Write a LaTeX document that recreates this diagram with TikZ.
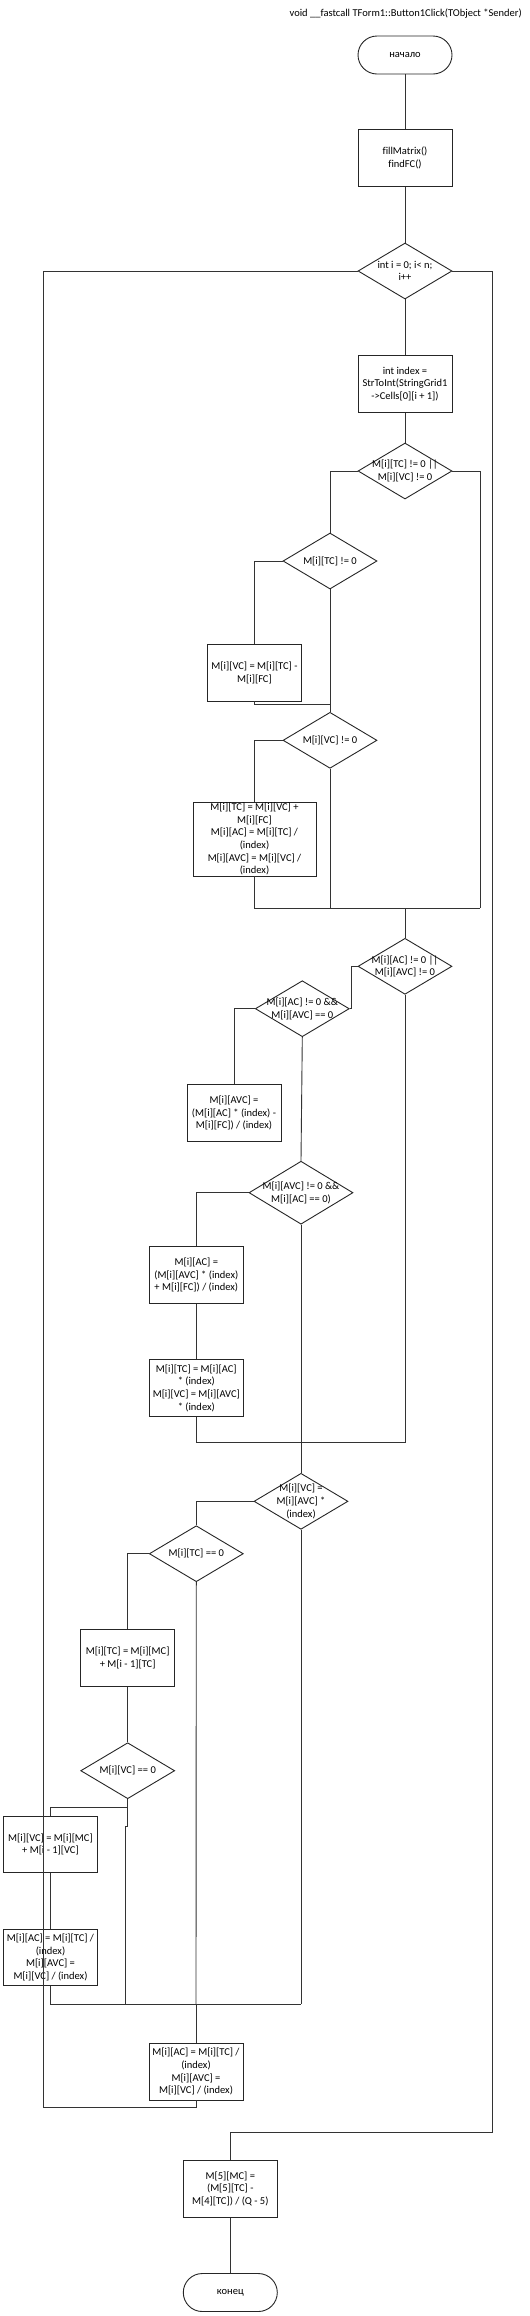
\documentclass[tikz,border=0pt]{standalone}
\usepackage{fontspec}
\setmainfont{Carlito}[Ligatures=NoCommon]
\usetikzlibrary{shapes.geometric}
\tikzset{
  lbl/.style={inner sep=0pt, align=center, font=\fontsize{10.5}{12.7}\selectfont, text=black},
  boxnode/.style={draw=black!85, line width=0.9pt, fill=white, rectangle, inner sep=0pt, minimum width=94pt, minimum height=56.5pt},
  dianode/.style={draw=black!85, line width=0.9pt, fill=white, diamond, inner sep=0pt, minimum width=94pt, minimum height=56pt},
  termnode/.style={draw=black!85, line width=0.9pt, fill=white, rectangle, rounded corners=19pt, inner sep=0pt, minimum width=94pt, minimum height=38pt},
  conn/.style={draw=black!80, line width=0.9pt}
}
\begin{document}
\begin{tikzpicture}[x=1pt,y=-1pt]
\useasboundingbox (0,0) rectangle (530,2316);

\node[lbl, anchor=east] (title) at (522,14) {void \_\_fastcall TForm1::Button1Click(TObject *Sender)};

% nodes
\node[termnode, label={[lbl]center:начало}] (start) at (405,55) {};
\node[boxnode, label={[lbl]center:{fillMatrix()\\findFC()}}] (fill) at (405,158) {};
\node[dianode, label={[lbl]center:{int i = 0; i< n;\\i++}}] (loop) at (405,271) {};
\node[boxnode, label={[lbl]center:{int index =\\StrToInt(StringGrid1\\->Cells[0][i + 1])}}] (idx) at (405,384) {};
\node[dianode, label={[lbl]center:{M[i][TC] != 0 ||\\M[i][VC] != 0}}] (d1) at (405,471) {};
\node[dianode, label={[lbl]center:{M[i][TC] != 0}}] (d2) at (330,561) {};
\node[boxnode, label={[lbl]center:{M[i][VC] = M[i][TC] -\\M[i][FC]}}] (b1) at (254.5,672.7) {};
\node[dianode, label={[lbl]center:{M[i][VC] != 0}}] (d3) at (330,740.3) {};
\node[boxnode, minimum width=123pt, minimum height=74pt, label={[lbl]center:{M[i][TC] = M[i][VC] +\\M[i][FC]\\M[i][AC] = M[i][TC] /\\(index)\\M[i][AVC] = M[i][VC] /\\(index)}}] (b2) at (254.5,839) {};
\node[dianode, label={[lbl]center:{M[i][AC] != 0 ||\\M[i][AVC] != 0}}] (d4) at (405,966.3) {};
\node[dianode, label={[lbl]center:{M[i][AC] != 0 \&\&\\M[i][AVC] == 0}}] (d5) at (302.3,1008.7) {};
\node[boxnode, label={[lbl]center:{M[i][AVC] =\\(M[i][AC] * (index) -\\M[i][FC]) / (index)}}] (b3) at (234,1113) {};
\node[dianode, minimum width=104pt, minimum height=63pt, label={[lbl]center:{M[i][AVC] != 0 \&\&\\M[i][AC] == 0)}}] (d6) at (301,1192.7) {};
\node[boxnode, label={[lbl]center:{M[i][AC] =\\(M[i][AVC] * (index)\\+ M[i][FC]) / (index)}}] (b4) at (196.3,1275) {};
\node[boxnode, label={[lbl]center:{M[i][TC] = M[i][AC]\\* (index)\\M[i][VC] = M[i][AVC]\\* (index)}}] (b5) at (196.3,1388) {};
\node[dianode, label={[lbl]center:{M[i][VC] =\\M[i][AVC] *\\(index)}}] (d7) at (301,1501.3) {};
\node[dianode, label={[lbl]center:{M[i][TC] == 0}}] (d8) at (196.3,1553.7) {};
\node[boxnode, label={[lbl]center:{M[i][TC] = M[i][MC]\\+ M[i - 1][TC]}}] (b6) at (127.7,1657.8) {};
\node[dianode, label={[lbl]center:{M[i][VC] == 0}}] (d9) at (127.7,1770.7) {};
\node[boxnode, label={[lbl]center:{M[i][VC] = M[i][MC]\\+ M[i - 1][VC]}}] (b9) at (50.5,1844.3) {};
\node[boxnode, label={[lbl]center:{M[i][AC] = M[i][TC] /\\(index)\\M[i][AVC] =\\M[i][VC] / (index)}}] (b10) at (50.5,1957.5) {};
\node[boxnode, label={[lbl]center:{M[i][AC] = M[i][TC] /\\(index)\\M[i][AVC] =\\M[i][VC] / (index)}}] (b11) at (196,2071.7) {};
\node[boxnode, label={[lbl]center:{M[5][MC] =\\(M[5][TC] -\\M[4][TC]) / (Q - 5)}}] (b12) at (230.3,2188.8) {};
\node[termnode, label={[lbl]center:конец}] (end) at (230.3,2292.5) {};

% helper coordinates
\coordinate (j0) at (330,704.7);
\coordinate (j1l) at (254.5,908);
\coordinate (j1) at (405,908);
\coordinate (j1m) at (330,908);
\coordinate (j1r) at (480,908);
\coordinate (k1) at (351.7,966.3);
\coordinate (j2) at (405,1442.7);
\coordinate (k2) at (127.7,1807.7);
\coordinate (k3) at (127.7,1826.7);
\coordinate (k4) at (125.7,1826.7);
\coordinate (k5) at (125.7,2004);
\coordinate (j3l) at (50.5,2004);
\coordinate (j3) at (196,2004);
\coordinate (j3r) at (301,2004);
\coordinate (lb) at (43,2107.3);
\coordinate (rb) at (492.6,2132.3);

% connectors
\draw[conn] (start.south) -- (fill.north);
\draw[conn] (fill.south) -- (loop.north);
\draw[conn] (loop.south) -- (idx.north);
\draw[conn] (idx.south) -- (d1.north);
\draw[conn] (d1.west) -| (d2.north);
\draw[conn] (d2.west) -| (b1.north);
\draw[conn] (b1.south) |- (j0);
\draw[conn] (d2.south) -- (d3.north);
\draw[conn] (d3.west) -| (b2.north);
\draw[conn] (b2.south) -- (j1l) -- (j1r);
\draw[conn] (d3.south) -- (j1m);
\draw[conn] (d1.east) -| (j1r);
\draw[conn] (j1) -- (d4.north);
\draw[conn] (d4.west) -- (k1) |- (d5.east);
\draw[conn] (d5.west) -| (b3.north);
\draw[conn] (d5.south) -- (d6.north);
\draw[conn] (d6.west) -| (b4.north);
\draw[conn] (b4.south) -- (b5.north);
\draw[conn] (b5.south) |- (j2);
\draw[conn] (d4.south) -- (j2);
\draw[conn] (d6.south) -- (d7.north);
\draw[conn] (d7.west) -| (d8.north);
\draw[conn] (d8.west) -| (b6.north);
\draw[conn] (b6.south) -- (d9.north);
\draw[conn] (d9.south) -- (k2) -| (b9.north);
\draw[conn] (k2) -- (k3) -- (k4) -- (k5);
\draw[conn] (b9.south) -- (b10.north);
\draw[conn] (b10.south) -- (j3l) -- (j3r);
\draw[conn] (d7.south) -- (j3r);
\draw[conn] (d8.south) -- (j3);
\draw[conn] (j3) -- (b11.north);
\draw[conn] (b11.south) |- (lb);
\draw[conn] (lb) |- (loop.west);
\draw[conn] (loop.east) -| (rb);
\draw[conn] (rb) -| (b12.north);
\draw[conn] (b12.south) -- (end.north);
\end{tikzpicture}
\end{document}
